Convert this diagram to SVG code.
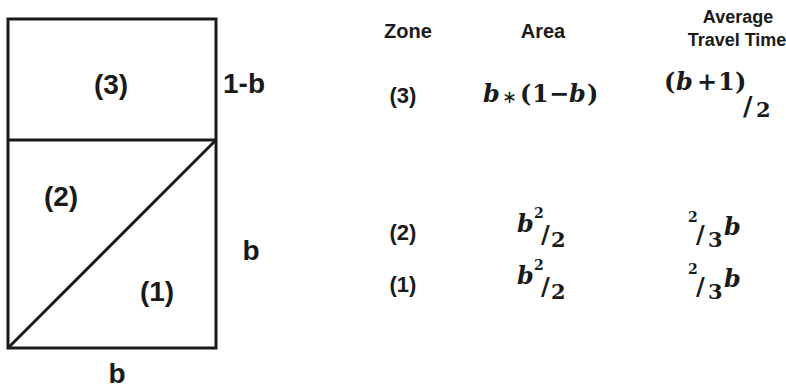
<svg xmlns="http://www.w3.org/2000/svg" width="786" height="388" viewBox="0 0 786 388">
<style>
.lbl{font-family:"Liberation Sans",Arial,sans-serif;font-weight:bold;fill:#1a1a1a}
.big{font-size:28px}
.hd{font-size:20px;text-anchor:middle}
.rw{font-size:22px;text-anchor:middle}
.hd2{font-size:18px;text-anchor:middle}
.m{font-family:"DejaVu Serif","Liberation Serif",serif;font-weight:bold;fill:#1a1a1a}
.i{font-style:italic}
.ast{font-family:"DejaVu Sans",sans-serif;font-weight:normal;font-size:18px}
.ln{stroke:#1a1a1a;stroke-width:3;fill:none}
</style>
<rect width="786" height="388" fill="#fff"/>
<g id="shape">
<rect class="ln" x="8" y="19" width="208" height="329"/>
<line class="ln" x1="8" y1="140" x2="216" y2="140"/>
<line class="ln" x1="8" y1="348" x2="216" y2="140"/>
</g>
<g id="labels-left">
<text class="lbl big" x="111" y="94" text-anchor="middle">(3)</text>
<text class="lbl big" x="223" y="93">1-b</text>
<text class="lbl big" x="61" y="206" text-anchor="middle">(2)</text>
<text class="lbl big" x="157" y="301" text-anchor="middle">(1)</text>
<text class="lbl big" x="251" y="260" text-anchor="middle">b</text>
<text class="lbl big" x="117" y="383" text-anchor="middle">b</text>
</g>
<g id="header">
<text class="lbl hd" x="408" y="38">Zone</text>
<text class="lbl hd" x="543" y="38">Area</text>
<text class="lbl hd2" x="738" y="23">Average</text>
<text class="lbl hd2" x="737" y="46">Travel Time</text>
</g>
<g id="row3">
<text class="lbl rw" x="403" y="103">(3)</text>
<text class="m" font-size="24" y="102"><tspan class="i" x="483">b</tspan><tspan class="ast" x="502" dy="1">∗</tspan><tspan x="520" dy="-1">(</tspan><tspan x="532">1</tspan><tspan x="549">−</tspan><tspan class="i" x="569">b</tspan><tspan x="587">)</tspan></text>
<text class="m" font-size="24" y="90"><tspan x="664">(</tspan><tspan class="i" x="676">b</tspan><tspan x="697">+</tspan><tspan x="718">1</tspan><tspan x="735">)</tspan></text>
<text class="m" font-size="26" x="743" y="115">/</text>
<text class="m" font-size="21" x="756" y="117">2</text>
</g>
<g id="row2">
<text class="lbl rw" x="403" y="240">(2)</text>
<text class="m i" font-size="24" x="517" y="232">b</text>
<text class="m" font-size="14" x="534" y="218">2</text>
<text class="m" font-size="24" x="541" y="243">/</text>
<text class="m" font-size="21" x="551" y="247">2</text>
<text class="m" font-size="14" x="688" y="222">2</text>
<text class="m" font-size="24" x="696" y="243">/</text>
<text class="m" font-size="21" x="708" y="247">3</text>
<text class="m i" font-size="24" x="724" y="235">b</text>
</g>
<g id="row1">
<text class="lbl rw" x="403" y="292">(1)</text>
<text class="m i" font-size="24" x="517" y="284">b</text>
<text class="m" font-size="14" x="534" y="270">2</text>
<text class="m" font-size="24" x="541" y="295">/</text>
<text class="m" font-size="21" x="551" y="299">2</text>
<text class="m" font-size="14" x="688" y="274">2</text>
<text class="m" font-size="24" x="696" y="295">/</text>
<text class="m" font-size="21" x="708" y="299">3</text>
<text class="m i" font-size="24" x="724" y="287">b</text>
</g>
</svg>
